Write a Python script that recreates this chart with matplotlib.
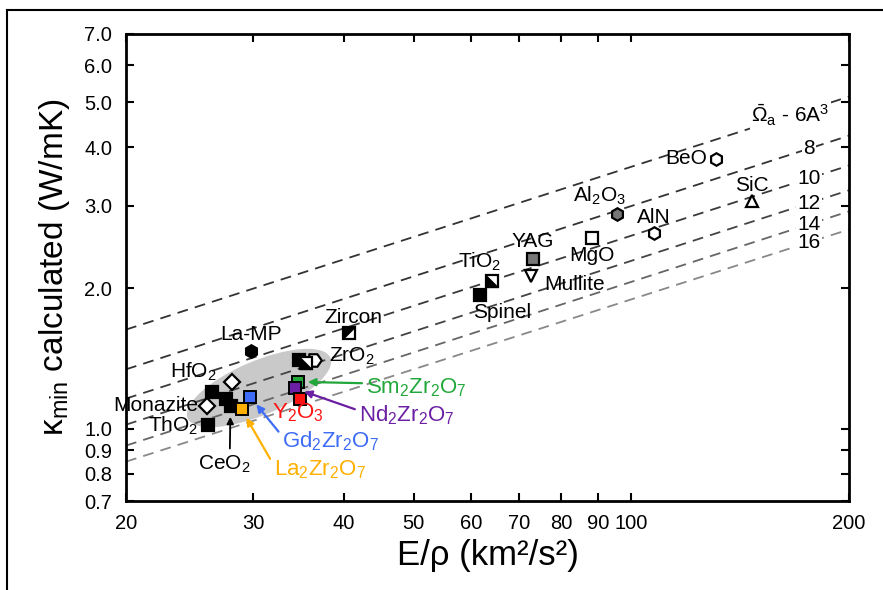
import math

import matplotlib
matplotlib.use("Agg")
import matplotlib.pyplot as plt
from matplotlib.lines import Line2D
from matplotlib.patches import Ellipse
from matplotlib.transforms import ScaledTranslation

plt.rcParams["font.family"] = ["Liberation Sans", "DejaVu Sans"]
plt.rcParams["mathtext.fontset"] = "custom"
plt.rcParams["mathtext.rm"] = "Liberation Sans"
plt.rcParams["mathtext.it"] = "Liberation Sans:italic"
plt.rcParams["mathtext.bf"] = "Liberation Sans:bold"

# constant atomic volume lines, kappa read at E/rho = 20 and 200
omega_labels = [r"$\bar{\Omega}_{\rm a}$ - 6A$^3$", "8", "10", "12", "14", "16"]
line_x = [20, 200]
kappa_at_20 = [1.63, 1.34, 1.16, 1.02, 0.92, 0.85]
kappa_at_200 = [5.14, 4.24, 3.66, 3.24, 2.92, 2.67]

# materials (E/rho in km^2/s^2, kappa_min in W/mK)
names = ["BeO", "SiC", "Al$_2$O$_3$", "AlN", "MgO", "YAG", "Mullite", "TiO$_2$",
         "Spinel", "Zircon", "La-MP", "ZrO$_2$", "", "", "HfO$_2$", "", "",
         "CeO$_2$", "Monazite", "ThO$_2$"]
e_rho = [130.9, 146.8, 95.5, 107.5, 88.2, 73.1, 72.7, 64.2,
         61.7, 40.7, 29.8, 36.5, 34.7, 35.5, 28.0, 26.3, 27.5,
         27.9, 25.9, 26.0]
kappa = [3.78, 3.07, 2.88, 2.62, 2.56, 2.31, 2.12, 2.07,
         1.93, 1.60, 1.47, 1.40, 1.40, 1.38, 1.26, 1.20, 1.16,
         1.12, 1.12, 1.02]

# pyrochlores and Y2O3
zr_names = [r"Sm$_2$Zr$_2$O$_7$", r"Nd$_2$Zr$_2$O$_7$", r"Y$_2$O$_3$",
            r"Gd$_2$Zr$_2$O$_7$", r"La$_2$Zr$_2$O$_7$"]
zr_e_rho = [34.6, 34.25, 34.8, 29.7, 28.9]
zr_kappa = [1.26, 1.22, 1.16, 1.17, 1.10]

x_ticks = [20, 30, 40, 50, 60, 70, 80, 90, 100, 200]
y_ticks = [0.7, 0.8, 0.9, 1.0, 2.0, 3.0, 4.0, 5.0, 6.0, 7.0]

# styles
pent = [(-1, -1), (0.3, -1), (1, 0), (0.3, 1), (-1, 1), (-1, -1)]
tri_ll = [(-1, 1), (-1, -1), (1, -1), (-1, 1)]
tri_ul = [(-1, -1), (-1, 1), (1, 1), (-1, -1)]
markers = ["h", "^", "h", "h", "s", "s", "v", "s",
           "s", "s", "h", pent, "s", "s", "D", "s", "s",
           "s", "D", "s"]
faces = ["white", "white", "#777777", "white", "white", "#777777", "white", "white",
         "black", "white", "black", "white", "black", "white", "white", "black", "black",
         "black", "white", "black"]
half_fill = {7: tri_ll, 9: tri_ul, 13: tri_ll}
# label offsets in pixels (dx right, dy down) and alignment
label_pos = {
    0: (-9, 0, "right"), 1: (0, -16, "center"), 2: (-17, -18, "center"),
    3: (0, -16, "center"), 4: (0, 17, "center"), 5: (0, -17, "center"),
    6: (43, 8, "center"), 7: (-13, -19, "center"), 8: (22, 17, "center"),
    9: (4, -16, "center"), 10: (0, -16, "center"), 11: (37, -4, "center"),
    14: (-38, -10, "center"), 18: (-9, 0, "right"), 19: (-10, 1, "right"),
}
zr_colors = ["#22a83a", "#6b1fa3", "#ff1414", "#3f6cf6", "#ffb000"]
zr_text = [(68, 6), (64, 27), (-2, 14), (32, 44), (32, 60)]

fig = plt.figure(figsize=(8.83, 5.90), dpi=100)
ax = fig.add_axes([0.1427, 0.1508, 0.8188, 0.7916])
ax.set_xscale("log")
ax.set_yscale("log")
ax.set_xlim(20, 200)
ax.set_ylim(0.7, 7.0)

ell_tr = fig.dpi_scale_trans + ScaledTranslation(30.55, 1.222, ax.transData)
ax.add_patch(Ellipse((0, 0), 1.55, 0.54, angle=23, transform=ell_tr,
                     facecolor="#c9c9c9", edgecolor="none", zorder=1))

line_colors = ["#333333", "#333333", "#3a3a3a", "#444444", "#666666", "#888888"]
label_x = [166, 176, 176, 176, 176, 176]
for k in range(len(omega_labels)):
    ax.plot(line_x, [kappa_at_20[k], kappa_at_200[k]], linestyle=(0, (6, 4)),
            color=line_colors[k], lw=1.3, zorder=2)
    ratio = kappa_at_200[k] / kappa_at_20[k]
    ky = kappa_at_20[k] * ratio ** math.log10(label_x[k] / 20)
    ax.text(label_x[k], ky, omega_labels[k], fontsize=15, ha="center", va="center",
            zorder=3, bbox=dict(facecolor="white", edgecolor="none", pad=1.0))

px = 0.72
for i in range(len(names)):
    ax.plot(e_rho[i], kappa[i], marker=markers[i], markersize=9 if markers[i] != "D" else 8,
            markerfacecolor=faces[i], markeredgecolor="black", markeredgewidth=1.6,
            linestyle="none", zorder=5)
    if i in half_fill:
        ax.plot(e_rho[i], kappa[i], marker=half_fill[i], markersize=9,
                markerfacecolor="black", markeredgecolor="black", markeredgewidth=0.5,
                linestyle="none", zorder=5)
    if i in label_pos:
        dx, dy, ha = label_pos[i]
        ax.annotate(names[i], (e_rho[i], kappa[i]), xytext=(dx * px, -dy * px),
                    textcoords="offset points", ha=ha, va="center", fontsize=15, zorder=6)

# CeO2 arrow label
ax.annotate(names[17], (e_rho[17], kappa[17]), xytext=(-6 * px, -59 * px),
            textcoords="offset points", ha="center", va="center", fontsize=15, zorder=6,
            arrowprops=dict(arrowstyle="-|>", color="black", lw=1.3, shrinkA=2, shrinkB=8,
                            relpos=(0.6, 1.0), mutation_scale=10))

for i in range(len(zr_names)):
    ax.plot(zr_e_rho[i], zr_kappa[i], marker="s", markersize=9,
            markerfacecolor=zr_colors[i], markeredgecolor="black", markeredgewidth=1.4,
            linestyle="none", zorder=5)
    dx, dy = zr_text[i]
    if i == 2:
        ax.annotate(zr_names[i], (zr_e_rho[i], zr_kappa[i]), xytext=(dx * px, -dy * px),
                    textcoords="offset points", ha="center", va="center",
                    fontsize=16, color=zr_colors[i], zorder=6)
    else:
        ax.annotate(zr_names[i], (zr_e_rho[i], zr_kappa[i]), xytext=(dx * px, -dy * px),
                    textcoords="offset points", ha="left", va="center",
                    fontsize=16, color=zr_colors[i], zorder=6,
                    arrowprops=dict(arrowstyle="-|>", color=zr_colors[i], lw=1.6,
                                    shrinkA=1, shrinkB=7, relpos=(0.0, 0.7),
                                    mutation_scale=11))

ax.set_xticks(x_ticks)
ax.set_xticklabels([str(v) for v in x_ticks])
ax.set_yticks(y_ticks)
ax.set_yticklabels([f"{v:.1f}" for v in y_ticks])
ax.minorticks_off()
ax.tick_params(which="both", direction="in", top=True, right=True, length=6, width=1.5,
               labelsize=14.5)
ax.tick_params(axis="y", pad=10)
ax.tick_params(axis="x", pad=9)
for s in ax.spines.values():
    s.set_linewidth(2)

ax.set_xlabel("E/ρ (km²/s²)", fontsize=25, labelpad=5)
ax.set_ylabel("κ$_{\\rm min}$ calculated (W/mK)", fontsize=24, labelpad=9)

# outer frame
fig.add_artist(Line2D([0.008, 0.008], [0.0, 0.983], transform=fig.transFigure,
                      color="black", lw=1.5))
fig.add_artist(Line2D([0.008, 1.0], [0.983, 0.983], transform=fig.transFigure,
                      color="black", lw=1.5))

fig.savefig("out.png", dpi=100)
